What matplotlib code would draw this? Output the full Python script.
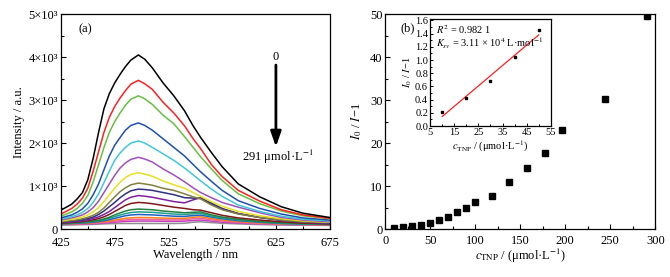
import numpy as np
import matplotlib
matplotlib.use("Agg")
import matplotlib.pyplot as plt

plt.rcParams["font.family"] = ["Liberation Serif", "DejaVu Serif"]
plt.rcParams["mathtext.fontset"] = "stix"
plt.rcParams["font.size"] = 9

# (a) emission spectra
wavelength = [425, 435, 440, 445, 450, 455, 460, 465, 470, 475, 480, 485, 490, 497,
              503, 510, 520, 530, 540, 548, 555, 565, 575, 590, 610, 630, 650, 675]
spectra = [
    [440, 580, 700, 850, 1150, 1650, 2250, 2800, 3150, 3400, 3600, 3780, 3930, 4050,
     3950, 3750, 3400, 3100, 2750, 2400, 2130, 1780, 1450, 1050, 750, 520, 370, 270],
    [350, 480, 580, 720, 950, 1350, 1800, 2250, 2600, 2850, 3050, 3220, 3370, 3460,
     3380, 3250, 2950, 2700, 2400, 2100, 1870, 1500, 1220, 900, 650, 450, 330, 250],
    [300, 400, 480, 600, 780, 1100, 1500, 1900, 2250, 2500, 2700, 2880, 3020, 3100,
     3030, 2900, 2650, 2450, 2150, 1900, 1680, 1400, 1130, 820, 590, 420, 310, 240],
    [260, 330, 390, 470, 600, 800, 1050, 1380, 1700, 1950, 2130, 2300, 2410, 2470,
     2410, 2300, 2100, 1900, 1700, 1500, 1330, 1110, 900, 660, 480, 350, 260, 210],
    [230, 290, 330, 390, 480, 620, 820, 1080, 1350, 1600, 1770, 1900, 2000, 2050,
     2000, 1900, 1750, 1600, 1420, 1260, 1120, 930, 760, 560, 410, 300, 230, 190],
    [210, 260, 290, 330, 400, 500, 650, 850, 1050, 1250, 1420, 1540, 1620, 1670,
     1630, 1560, 1400, 1260, 1100, 960, 850, 730, 620, 510, 380, 270, 210, 170],
    [190, 230, 250, 280, 330, 400, 500, 640, 800, 950, 1090, 1200, 1270, 1310,
     1280, 1230, 1120, 1030, 950, 850, 760, 640, 530, 410, 310, 240, 190, 160],
    [170, 200, 215, 240, 275, 320, 390, 490, 620, 750, 870, 960, 1030, 1070,
     1050, 1020, 950, 900, 820, 750, 700, 560, 450, 350, 270, 210, 170, 150],
    [160, 185, 200, 220, 245, 280, 340, 420, 520, 620, 730, 820, 890, 930,
     920, 900, 850, 800, 730, 720, 715, 600, 480, 360, 270, 210, 170, 140],
    [150, 165, 180, 195, 215, 245, 285, 340, 410, 500, 590, 680, 740, 780,
     765, 740, 690, 640, 610, 680, 730, 580, 460, 360, 270, 200, 160, 130],
    [140, 155, 165, 178, 195, 215, 245, 285, 340, 410, 480, 550, 595, 620,
     610, 590, 550, 510, 480, 450, 440, 380, 320, 260, 210, 170, 140, 120],
    [130, 142, 150, 160, 172, 188, 205, 235, 275, 330, 375, 420, 450, 465,
     458, 450, 420, 400, 380, 390, 400, 330, 280, 230, 180, 150, 130, 115],
    [125, 137, 144, 152, 163, 176, 192, 215, 250, 290, 325, 360, 385, 400,
     395, 390, 370, 350, 340, 355, 365, 300, 260, 210, 170, 140, 120, 110],
    [120, 128, 135, 142, 150, 160, 175, 195, 220, 250, 280, 310, 328, 340,
     335, 330, 315, 300, 295, 315, 325, 280, 240, 195, 160, 130, 115, 105],
    [115, 122, 128, 134, 140, 148, 160, 172, 190, 210, 230, 250, 262, 270,
     268, 265, 255, 250, 250, 275, 285, 245, 210, 175, 145, 120, 110, 100],
    [110, 116, 120, 124, 130, 136, 145, 155, 167, 180, 195, 210, 220, 225,
     224, 222, 215, 212, 215, 240, 250, 215, 185, 155, 130, 115, 105, 95],
    [105, 108, 112, 116, 120, 125, 131, 140, 150, 160, 170, 178, 183, 186,
     186, 185, 182, 180, 185, 200, 210, 185, 160, 140, 120, 105, 100, 90],
    [95, 98, 100, 103, 106, 110, 115, 120, 124, 128, 130, 130, 130, 130,
     130, 130, 130, 130, 135, 160, 170, 150, 135, 120, 105, 95, 90, 85],
]
colors = ["#000000", "#ff2020", "#66c040", "#1f50b0", "#40c8d8", "#a050b8",
          "#e8e020", "#808040", "#303080", "#8020a0", "#801818", "#208040",
          "#20a090", "#2060c0", "#f08020", "#f060a0", "#c040c0", "#909090"]

# (b) Stern-Volmer data
conc = [10, 20, 30, 40, 50, 60, 70, 80, 90, 100, 119, 138, 158, 177, 196, 244, 291]
ratio = [0.2, 0.4, 0.7, 1.0, 1.45, 2.1, 2.9, 3.9, 4.9, 6.2, 7.8, 10.9, 14.2, 17.8, 23.0, 30.2, 49.6]
conc_low = [10, 20, 30, 40, 50]
ratio_low = [0.21, 0.43, 0.68, 1.04, 1.45]

fig = plt.figure(figsize=(6.7, 2.77), dpi=100)
ax1 = fig.add_axes([0.091, 0.173, 0.401, 0.776])
ax2 = fig.add_axes([0.575, 0.173, 0.403, 0.776])
ax3 = fig.add_axes([0.642, 0.545, 0.180, 0.386])

for ax in (ax1, ax2, ax3):
    for s in ax.spines.values():
        s.set_linewidth(0.9)

for vals, c in zip(spectra[::-1], colors[::-1]):
    ax1.plot(wavelength, vals, color=c, lw=1.1)
ax1.set_xlim(425, 675)
ax1.set_ylim(0, 5000)
ax1.set_xticks(np.arange(425, 676, 50))
ax1.set_xticks(np.arange(450, 676, 50), minor=True)
ax1.set_yticks(np.arange(0, 5001, 1000))
ax1.set_yticklabels(["0", "1×10³", "2×10³", "3×10³", "4×10³", "5×10³"])
ax1.set_yticks(np.arange(500, 5000, 1000), minor=True)
ax1.tick_params(direction="in", which="both", top=False, right=False)
ax1.tick_params(which="major", length=3.5, width=0.8, pad=2)
ax1.tick_params(axis="x", which="major", pad=5.5)
ax1.tick_params(which="minor", length=2.5, width=0.8)
ax1.set_xlabel("Wavelength / nm", labelpad=0)
ax1.set_ylabel("Intensity / a.u.", labelpad=3)
ax1.text(0.067, 0.93, "(a)", transform=ax1.transAxes, va="center")
ax1.annotate("", xy=(625, 1850), xytext=(625, 3880),
             arrowprops=dict(arrowstyle="-|>,head_width=0.35,head_length=1.0",
                             color="black", lw=2.0))
ax1.text(625, 4000, "0", ha="center", va="center")
ax1.text(627, 1680, "291 μmol·L$^{-1}$", ha="center", va="center")

ax2.plot(conc, ratio, "s", color="black", ms=4.2)
ax2.set_xlim(0, 300)
ax2.set_ylim(0, 50)
ax2.set_xticks(np.arange(0, 301, 50))
ax2.set_xticks(np.arange(25, 300, 50), minor=True)
ax2.set_yticks(np.arange(0, 51, 10))
ax2.set_yticks(np.arange(5, 50, 10), minor=True)
ax2.tick_params(direction="in", which="both", top=False, right=False)
ax2.tick_params(which="major", length=3.5, width=0.8, pad=2)
ax2.tick_params(axis="x", which="major", pad=4)
ax2.tick_params(which="minor", length=2.5, width=0.8)
ax2.set_xlabel(r"$c_{\rm TNP}$ / (μmol·L$^{-1}$)", labelpad=0)
ax2.set_ylabel(r"$I_0$ / $I$−1", labelpad=4)
ax2.text(0.058, 0.935, "(b)", transform=ax2.transAxes, va="center")

slope, intercept = np.polyfit(conc_low, ratio_low, 1)
xfit = np.array([conc_low[0], conc_low[-1]])
ax3.plot(xfit, slope * xfit + intercept, color="#ff2020", lw=0.9)
ax3.plot(conc_low, ratio_low, "s", color="black", ms=1.8)
ax3.set_xlim(5, 55)
ax3.set_ylim(0, 1.62)
ax3.set_xticks(np.arange(5, 56, 10))
ax3.set_xticks(np.arange(10, 55, 10), minor=True)
ax3.set_yticks(np.arange(0, 1.61, 0.2))
ax3.set_yticks(np.arange(0.1, 1.6, 0.2), minor=True)
ax3.yaxis.set_major_formatter(matplotlib.ticker.FormatStrFormatter("%.1f"))
ax3.tick_params(direction="in", which="both", top=False, right=False, labelsize=7.5)
ax3.tick_params(which="major", length=2.5, width=0.7, pad=1.5)
ax3.tick_params(which="minor", length=1.5, width=0.7)
ax3.set_xlabel(r"$c_{\rm TNP}$ / (μmol·L$^{-1}$)", fontsize=7.5, labelpad=1)
ax3.set_ylabel(r"$I_0$ / $I$−1", fontsize=7.5, labelpad=1)
ax3.text(0.05, 0.9, r"$R^2$ = 0.982 1", transform=ax3.transAxes, fontsize=7.5, va="center")
ax3.text(0.05, 0.77, r"$K_{sv}$ = 3.11 × 10$^4$ L·mol$^{-1}$", transform=ax3.transAxes,
         fontsize=7.5, va="center")

fig.savefig("out.png", dpi=100)
